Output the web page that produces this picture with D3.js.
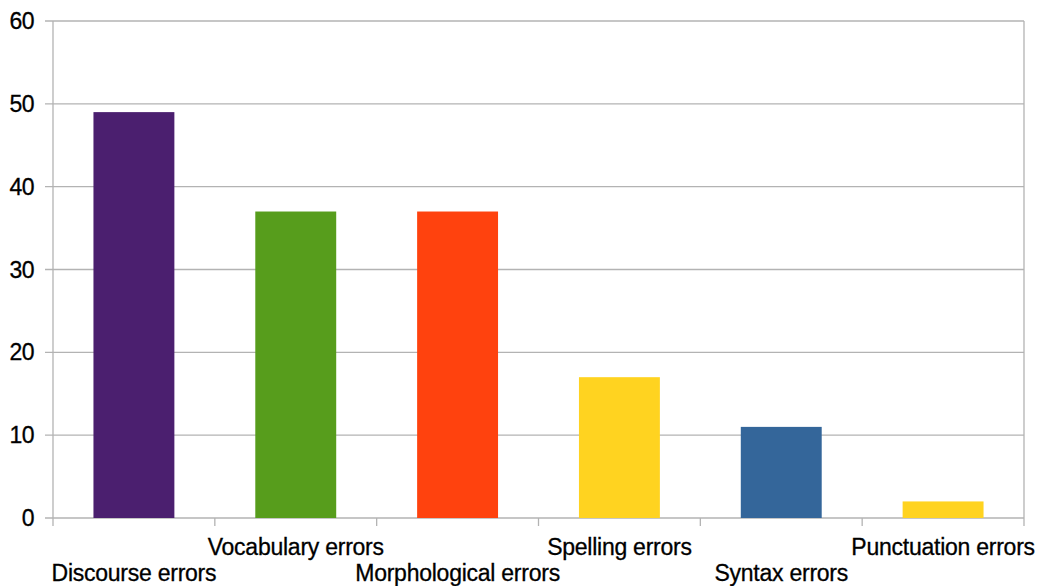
<!DOCTYPE html>
<html>
<head>
<meta charset="utf-8">
<script src="https://cdn.jsdelivr.net/npm/d3@7"></script>
<style>
  body { margin: 0; background: #fff; }
  text { font-family: "Liberation Sans", Arial, sans-serif; fill: #000; }
</style>
</head>
<body>
<svg id="chart"></svg>
<script>
// Chart data
const categories = ["Discourse errors", "Vocabulary errors", "Morphological errors",
                    "Spelling errors", "Syntax errors", "Punctuation errors"];
const counts = [49, 37, 37, 17, 11, 2];
const barColors = ["#4b1f6f", "#579d1c", "#ff420e", "#ffd320", "#34669a", "#ffd320"];
const yTicks = [0, 10, 20, 30, 40, 50, 60];

const width = 1040, height = 586;
const margin = {top: 21, right: 16, bottom: 68, left: 53};

const svg = d3.select("#chart")
    .attr("width", width)
    .attr("height", height);

const xScale = d3.scaleBand()
    .domain(categories)
    .range([margin.left, width - margin.right])
    .paddingInner(0.5)
    .paddingOuter(0.25);

const yScale = d3.scaleLinear()
    .domain([0, 60])
    .range([height - margin.bottom, margin.top]);

// Horizontal grid lines
svg.append("g")
    .selectAll("line")
    .data(yTicks)
    .join("line")
    .attr("x1", margin.left - 8)
    .attr("x2", width - margin.right)
    .attr("y1", d => yScale(d))
    .attr("y2", d => yScale(d))
    .attr("stroke", "#b3b3b3")
    .attr("stroke-width", 1.3);

// Left and right frame lines
svg.append("line")
    .attr("x1", margin.left).attr("x2", margin.left)
    .attr("y1", yScale(60)).attr("y2", yScale(0) + 8)
    .attr("stroke", "#b3b3b3").attr("stroke-width", 1.3);
svg.append("line")
    .attr("x1", width - margin.right).attr("x2", width - margin.right)
    .attr("y1", yScale(60)).attr("y2", yScale(0) + 8)
    .attr("stroke", "#b3b3b3").attr("stroke-width", 1.3);

// Category boundary ticks
svg.append("g")
    .selectAll("line")
    .data(categories.slice(1))
    .join("line")
    .attr("x1", d => xScale(d) - xScale.bandwidth() / 2)
    .attr("x2", d => xScale(d) - xScale.bandwidth() / 2)
    .attr("y1", yScale(0))
    .attr("y2", yScale(0) + 8)
    .attr("stroke", "#b3b3b3")
    .attr("stroke-width", 1.3);

// Y tick labels
svg.append("g")
    .selectAll("text")
    .data(yTicks)
    .join("text")
    .attr("x", margin.left - 19)
    .attr("y", d => yScale(d))
    .attr("dy", "0.35em")
    .attr("text-anchor", "end")
    .style("font-size", "23px")
    .style("letter-spacing", "-0.6px")
    .style("stroke", "#000")
    .style("stroke-width", "0.3px")
    .text(d => d);

// Bars
svg.append("g")
    .selectAll("rect")
    .data(counts)
    .join("rect")
    .attr("x", (d, i) => xScale(categories[i]))
    .attr("y", d => yScale(d))
    .attr("width", xScale.bandwidth())
    .attr("height", d => yScale(0) - yScale(d))
    .attr("fill", (d, i) => barColors[i]);

// Staggered category labels
svg.append("g")
    .selectAll("text")
    .data(categories)
    .join("text")
    .attr("x", d => xScale(d) + xScale.bandwidth() / 2)
    .attr("y", (d, i) => i % 2 === 1 ? 555 : 581)
    .attr("text-anchor", "middle")
    .style("font-size", "23px")
    .style("letter-spacing", "-0.25px")
    .style("stroke", "#000")
    .style("stroke-width", "0.3px")
    .text(d => d);
</script>
</body>
</html>
